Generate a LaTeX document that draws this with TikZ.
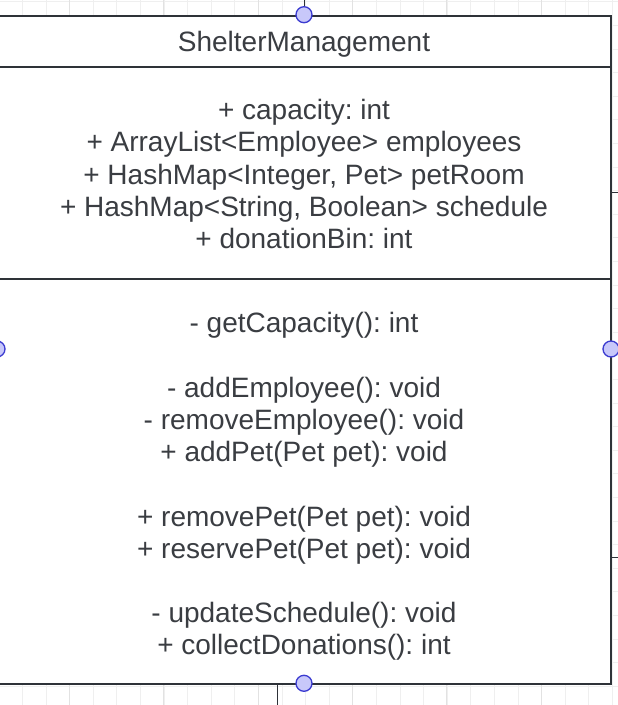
\documentclass[tikz,border=0pt]{standalone}
\usepackage{fontspec}
\setmainfont{Liberation Sans}
\frenchspacing
\definecolor{boxline}{HTML}{2E3238}
\definecolor{txt}{HTML}{3A3D42}
\definecolor{gridminor}{HTML}{EFEFEF}
\definecolor{gridmajor}{HTML}{E2E2E2}
\definecolor{portfill}{HTML}{C8C8FA}
\definecolor{portline}{HTML}{3B3BD0}
\begin{document}
\begin{tikzpicture}[x=1pt,y=-1pt,
  minorline/.style={draw=gridminor,line width=0.8pt},
  majorline/.style={draw=gridmajor,line width=0.9pt},
  section/.style={draw=boxline,line width=2pt,fill=white,minimum width=614pt,inner sep=0pt},
  sectext/.style={text=txt,align=center,inner sep=0pt,font=\fontsize{28}{32.2}\selectfont\frenchspacing},
  port/.style={circle,draw=portline,fill=portfill,line width=1.3pt,minimum size=16pt,inner sep=0pt},
  conn/.style={draw=boxline,line width=1pt}]
\useasboundingbox (0,0) rectangle (618,705);
% background grid
\foreach \i in {0,...,25} \draw[minorline] ({22.3+23.6*\i},0) -- ({22.3+23.6*\i},705);
\foreach \j in {0,...,30} \draw[minorline] (0,{1.7+23.6*\j}) -- (618,{1.7+23.6*\j});
\foreach \i in {0,...,6} \draw[majorline] ({69.3+94.4*\i},0) -- ({69.3+94.4*\i},705);
% class box
\node[section,minimum height=51.3pt,anchor=north] (hdr) at (304,14.7) {};
\node[section,minimum height=212pt,anchor=north] (attr) at (304,66) {};
\node[section,minimum height=405.3pt,anchor=north] (meth) at (304,278) {};
\node[sectext,yshift=-3pt] (hdrtxt) at (hdr.center) {ShelterManagement};
\node[sectext,yshift=-1pt] (attrtxt) at (attr.center) {+ capacity: int\\
+ ArrayList<Employee> employees\\
+ HashMap<Integer, Pet> petRoom\\
+ HashMap<String, Boolean> schedule\\
+ donationBin: int};
\node[sectext,yshift=-5pt] (methtxt) at (meth.center) {- getCapacity(): int\\[32.2pt]
- addEmployee(): void\\
- removeEmployee(): void\\
+ addPet(Pet pet): void\\[32.2pt]
+ removePet(Pet pet): void\\
+ reservePet(Pet pet): void\\[32.2pt]
- updateSchedule(): void\\
+ collectDonations(): int};
% connector ends
\coordinate (topend) at (304,0);
\coordinate (botstart) at (277,684);
\coordinate (botend) at (277,705);
\coordinate (r1a) at (612,192);
\coordinate (r1b) at (618,192);
\coordinate (r2a) at (612,557);
\coordinate (r2b) at (618,557);
% ports
\node[port] (ptop) at (304,14.7) {};
\node[port] (pbot) at (304,683.3) {};
\node[port] (pleft) at (-3,349) {};
\node[port] (pright) at (611,349) {};
% connectors
\draw[conn] (ptop) -- (topend);
\draw[conn] (botstart) -- (botend);
\draw[conn] (r1a) -- (r1b);
\draw[conn] (r2a) -- (r2b);
\end{tikzpicture}
\end{document}
